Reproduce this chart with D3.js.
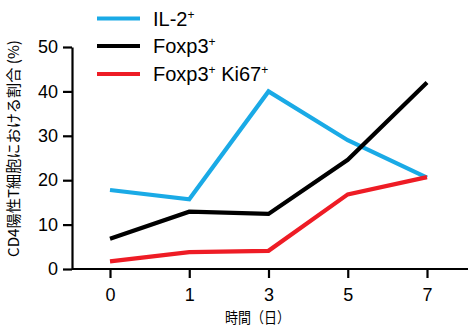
<!DOCTYPE html>
<html>
<head>
<meta charset="utf-8">
<script src="https://cdn.jsdelivr.net/npm/d3@7"></script>
<style>
  html, body { margin: 0; padding: 0; background: #fff; }
  svg { display: block; }
  text { font-family: "Liberation Sans", Arial, sans-serif; fill: #000; }
  .cjk { font-family: "Noto Sans CJK JP", "Noto Sans CJK SC", sans-serif; }
</style>
</head>
<body>
<svg id="chart" width="474" height="334"></svg>
<script>
const days = ["0", "1", "3", "5", "7"];
const il2 = [17.8, 15.7, 40, 29, 20.6];
const foxp3 = [6.8, 12.9, 12.4, 24.6, 42];
const foxp3Ki67 = [1.7, 3.8, 4.1, 16.8, 20.7];
const yTicks = [0, 10, 20, 30, 40, 50];
const seriesNames = ["IL-2", "Foxp3", "Foxp3 Ki67"];
const seriesColors = ["#1AAAE6", "#000000", "#EE1C25"];

const svg = d3.select("#chart");
const x = d3.scalePoint().domain(days).range([110, 427]);
const y = d3.scaleLinear().domain([0, 50]).range([269, 47]);

// Y axis
const yAxis = svg.append("g").attr("transform", "translate(72,0)")
  .call(d3.axisLeft(y).tickValues(yTicks).tickSize(9).tickPadding(5).tickSizeOuter(0));
yAxis.select(".domain").attr("stroke-width", 2.2).attr("stroke", "#000");
yAxis.selectAll(".tick line").attr("stroke-width", 2.2);
yAxis.selectAll(".tick text").style("font-size", "18px").style("font-family", "Liberation Sans, Arial, sans-serif");

// X axis
const xAxisG = svg.append("g").attr("transform", "translate(0,269)");
xAxisG.append("line").attr("x1", 72).attr("x2", 468).attr("y1", 0).attr("y2", 0)
  .attr("stroke", "#000").attr("stroke-width", 2.2);
const xAxis = xAxisG.append("g")
  .call(d3.axisBottom(x).tickSize(9).tickPadding(10).tickSizeOuter(0));
xAxis.select(".domain").remove();
xAxis.selectAll(".tick line").attr("stroke-width", 2.2);
xAxis.selectAll(".tick text").style("font-size", "18px").style("font-family", "Liberation Sans, Arial, sans-serif");

// Lines
const allSeries = [il2, foxp3, foxp3Ki67];
const line = d3.line().x((d, i) => x(days[i])).y(d => y(d));
allSeries.forEach((s, k) => {
  svg.append("path").datum(s).attr("d", line)
    .attr("fill", "none").attr("stroke", seriesColors[k])
    .attr("stroke-width", 4.2).attr("stroke-linejoin", "miter");
});

// Legend
const legY = [18.5, 46, 74];
seriesNames.forEach((name, k) => {
  svg.append("line").attr("x1", 97).attr("x2", 140).attr("y1", legY[k]).attr("y2", legY[k])
    .attr("stroke", seriesColors[k]).attr("stroke-width", 4.2);
  const t = svg.append("text").attr("x", 153).attr("y", legY[k] + 7.3).style("font-size", "20px");
  const parts = name.split(" ");
  parts.forEach((p, j) => {
    t.append("tspan").attr("dy", j > 0 ? 7 : 0).text((j > 0 ? "\u00a0" : "") + p);
    t.append("tspan").attr("dy", -7).style("font-size", "12px").text("+");
  });
});

// Axis titles
svg.append("text").attr("class", "cjk")
  .attr("transform", "translate(19,148.5) rotate(-90)")
  .attr("text-anchor", "middle").style("font-size", "15px")
  .attr("textLength", 217).attr("lengthAdjust", "spacingAndGlyphs")
  .text("CD4陽性T細胞における割合 (%)");

svg.append("text").attr("class", "cjk")
  .attr("x", 257.5).attr("y", 323)
  .attr("text-anchor", "middle").style("font-size", "15px")
  .attr("textLength", 65).attr("lengthAdjust", "spacingAndGlyphs")
  .text("時間（日）");
</script>
</body>
</html>
